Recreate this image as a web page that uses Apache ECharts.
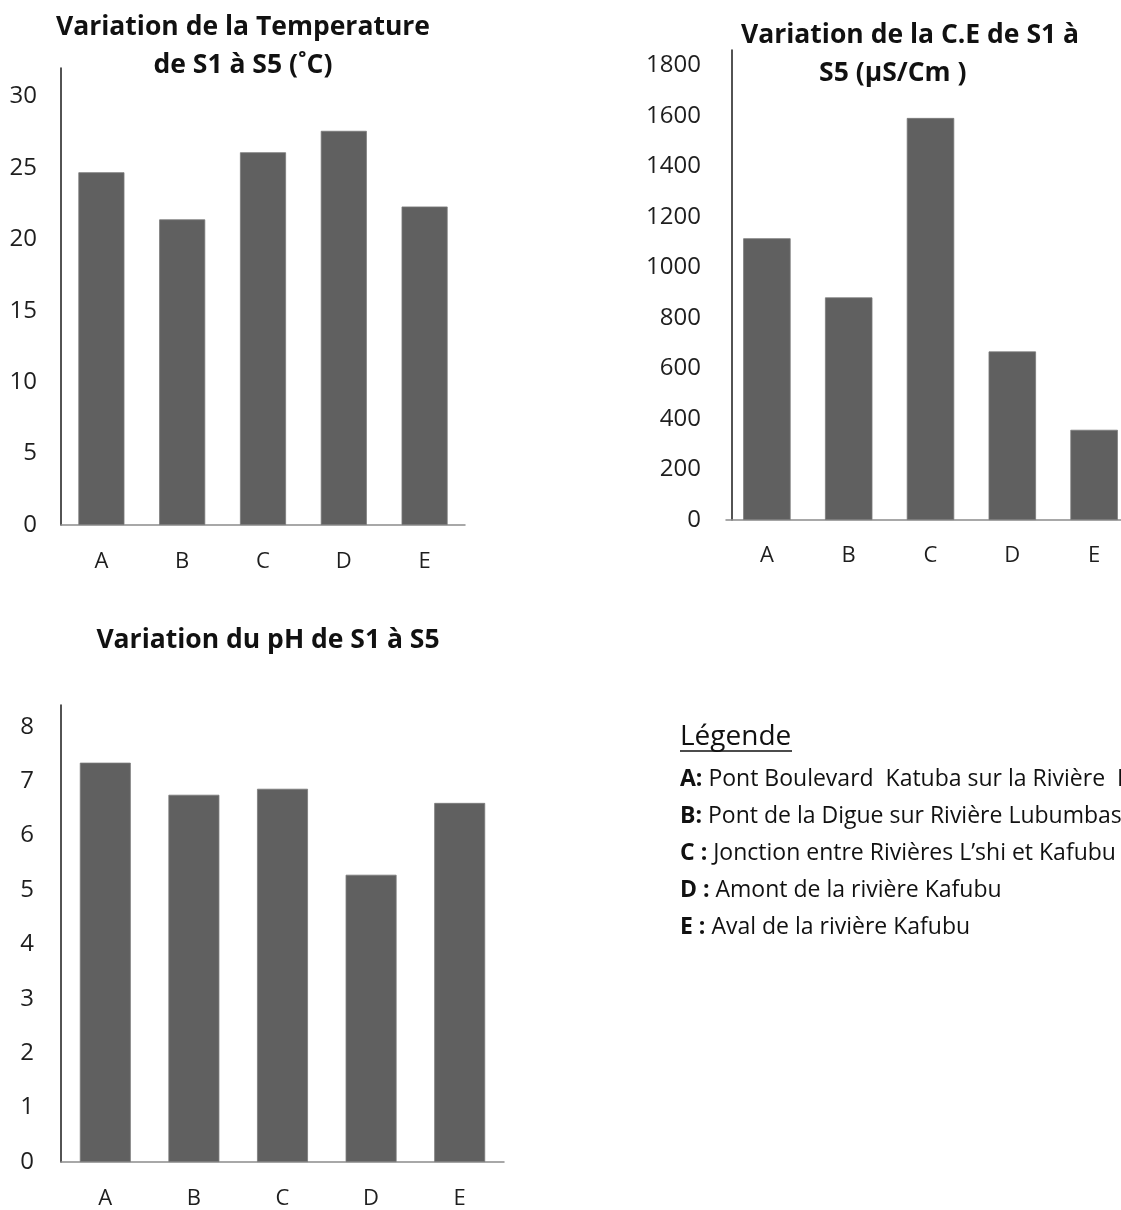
<!DOCTYPE html>
<html>
<head>
<meta charset="utf-8">
<style>
  html, body { margin: 0; padding: 0; background: #fff; overflow: hidden; }
  #chart { width: 1140px; height: 1210px; }
</style>
<script src="https://cdn.jsdelivr.net/npm/echarts@6/dist/echarts.min.js"></script>
</head>
<body>
<div id="chart"></div>
<script>
// Sampling sites
const categories = ['A', 'B', 'C', 'D', 'E'];

// Measured values per site
const temperature = [24.7, 21.4, 26.1, 27.6, 22.3];   // °C
const conductivity = [1115, 881, 1591, 667, 357];     // µS/cm
const ph = [7.34, 6.75, 6.86, 5.28, 6.6];

// Site descriptions
const siteKeys = ['A:', 'B:', 'C :', 'D :', 'E :'];
const siteNames = [
  ' Pont Boulevard  Katuba sur la Rivière  Lubumbashi',
  ' Pont de la Digue sur Rivière Lubumbashi',
  ' Jonction entre Rivières L\u2019shi et Kafubu',
  ' Amont de la rivière Kafubu',
  ' Aval de la rivière Kafubu'
];

const FONT = '"Open Sans", "DejaVu Sans", sans-serif';
const BAR = '#606060';
const INK = '#1e1e1e';

const chart = echarts.init(document.getElementById('chart'));

function yAxisFor(gridIndex, max, step, margin, offset) {
  return {
    type: 'value', gridIndex: gridIndex, min: 0, max: max, interval: step,
    offset: offset || 0,
    splitLine: { show: false },
    axisTick: { show: false },
    axisLine: { show: true, lineStyle: { color: '#1a1a1a', width: 1.5 } },
    axisLabel: {
      margin: margin, color: INK, fontSize: 24, fontFamily: FONT,
      formatter: v => (Math.abs(v / step - Math.round(v / step)) < 1e-9 ? String(v) : '')
    }
  };
}

function xAxisFor(gridIndex, margin) {
  return {
    type: 'category', gridIndex: gridIndex, data: categories,
    axisTick: { show: false },
    axisLine: { show: true, lineStyle: { color: '#8c8c8c', width: 1.5 } },
    axisLabel: { margin: margin, color: INK, fontSize: 22, fontFamily: FONT }
  };
}

function barSeries(index, values, width) {
  return {
    type: 'bar', xAxisIndex: index, yAxisIndex: index, data: values,
    barWidth: width, silent: true,
    itemStyle: { color: BAR, borderColor: '#7a7a7a', borderWidth: 0.8 }
  };
}

const titleStyle = { fontFamily: FONT, fontWeight: 'bold', fontSize: 26.5, color: '#111', lineHeight: 38 };

const legendTexts = siteKeys.map((k, i) => ({
  type: 'text', left: 680, top: 768 + i * 37,
  style: {
    text: '{k|' + k + '}{n|' + siteNames[i] + '}',
    rich: {
      k: { fontFamily: FONT, fontWeight: 'bold', fontSize: 23, fill: '#111' },
      n: { fontFamily: FONT, fontSize: 23, fill: '#111' }
    }
  }
}));

chart.setOption({
  backgroundColor: '#fff',
  animation: false,
  title: [
    { text: 'Variation de la Temperature\nde S1 à S5 (˚C)', left: 243, top: 8, padding: 0, textAlign: 'center', textStyle: titleStyle },
    { text: 'Variation de la C.E de S1 à\nS5 (µS/Cm )     ', left: 910, top: 16, padding: 0, textAlign: 'center', textStyle: titleStyle },
    { text: 'Variation du pH de S1 à S5', left: 268, top: 621, padding: 0, textAlign: 'center', textStyle: titleStyle }
  ],
  grid: [
    { left: 61, top: 68, width: 404, height: 457 },
    { left: 726, top: 50, width: 409, height: 470 },
    { left: 61, top: 705, width: 443, height: 459 }
  ],
  xAxis: [xAxisFor(0, 26), xAxisFor(1, 25), xAxisFor(2, 26)],
  yAxis: [
    yAxisFor(0, 32, 5, 24),
    yAxisFor(1, 1860, 200, 31, -6),
    yAxisFor(2, 8.4, 1, 27)
  ],
  series: [
    barSeries(0, temperature, '57%'),
    barSeries(1, conductivity, '58%'),
    barSeries(2, ph, '57.5%')
  ],
  graphic: [
    {
      type: 'text', left: 680, top: 723,
      style: { text: 'Légende', fontFamily: FONT, fontSize: 28, fill: '#111' }
    },
    {
      type: 'line', shape: { x1: 680, y1: 751, x2: 792, y2: 751 },
      style: { stroke: '#111', lineWidth: 1.5 }
    }
  ].concat(legendTexts)
});
</script>
</body>
</html>
